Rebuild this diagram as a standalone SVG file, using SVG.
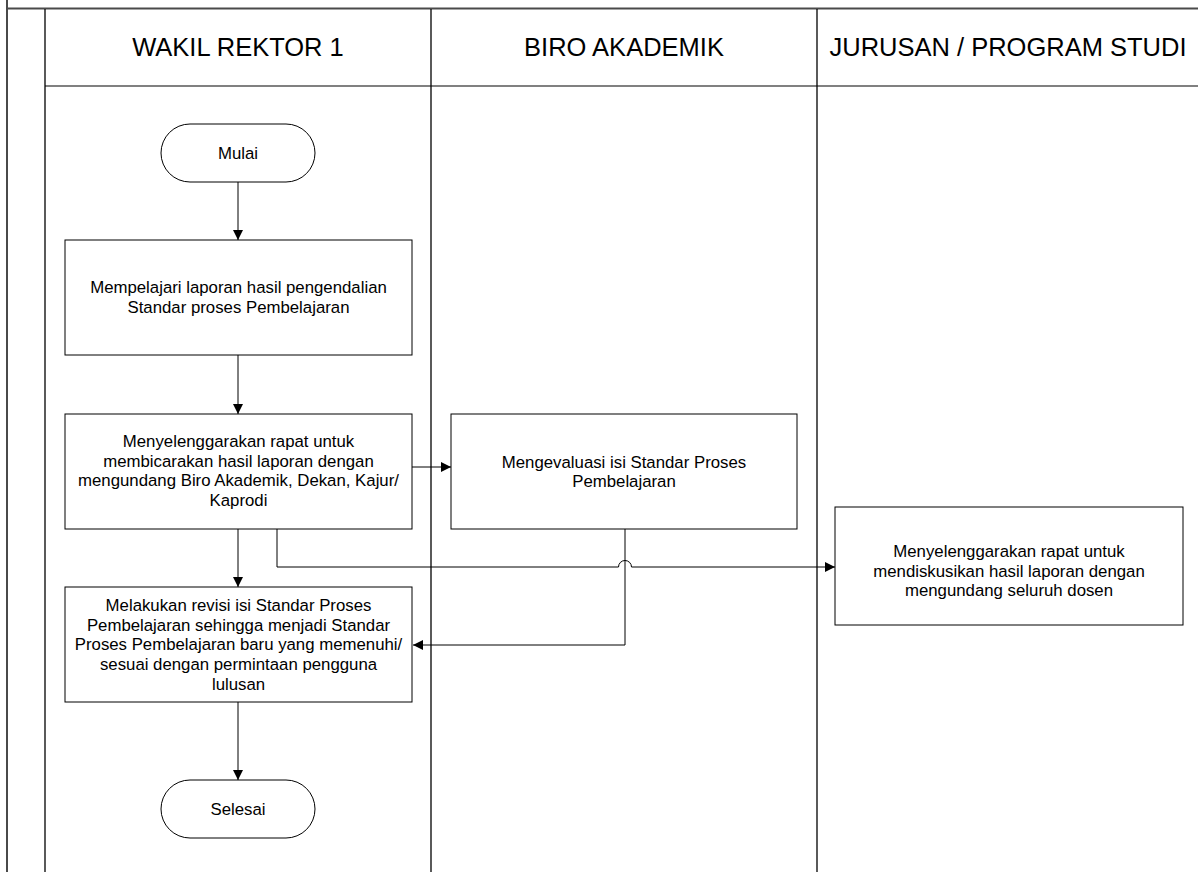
<svg xmlns="http://www.w3.org/2000/svg" width="1198" height="872" viewBox="0 0 1198 872">
<style>
.lane{stroke:#000;stroke-width:1.3;fill:none}
.frame{stroke:#4a4a4a;stroke-width:2;fill:none}
.hdr{stroke:#808080;stroke-width:2;fill:none}
.h{font-family:"Liberation Sans",Arial,sans-serif;font-size:25.5px;fill:#000;text-anchor:middle}
.t{font-family:"Liberation Sans",Arial,sans-serif;font-size:16.8px;fill:#000;text-anchor:middle}
.box{fill:#fff;stroke:#000;stroke-width:1}
.c{fill:none;stroke:#000;stroke-width:1}
</style>
<defs>
<marker id="ah" viewBox="0 0 10 10" refX="10" refY="5" markerWidth="10" markerHeight="10" markerUnits="userSpaceOnUse" orient="auto">
<path d="M0,0 L10,5 L0,10 z" fill="#000"/>
</marker>
</defs>
<rect width="1198" height="872" fill="#fff"/>
<g id="swimlanes">
<line class="frame" x1="7" y1="0" x2="7" y2="872"/>
<line class="frame" x1="7" y1="8.5" x2="1198" y2="8.5"/>
<line class="hdr" x1="45" y1="86" x2="1198" y2="86"/>
<line class="lane" x1="45" y1="9" x2="45" y2="872" stroke-width="1"/>
<line class="lane" x1="431" y1="9" x2="431" y2="872"/>
<line class="lane" x1="817" y1="9" x2="817" y2="872"/>
<text class="h" x="238" y="55.5">WAKIL REKTOR 1</text>
<text class="h" x="624" y="55.5">BIRO AKADEMIK</text>
<text class="h" x="1008" y="55.5">JURUSAN / PROGRAM STUDI</text>
</g>
<g id="connectors">
<line class="c" x1="238" y1="182" x2="238" y2="240" marker-end="url(#ah)"/>
<line class="c" x1="238" y1="355" x2="238" y2="414" marker-end="url(#ah)"/>
<line class="c" x1="412" y1="467" x2="451" y2="467" marker-end="url(#ah)"/>
<line class="c" x1="238" y1="529" x2="238" y2="587" marker-end="url(#ah)"/>
<path class="c" d="M277,529 V567 H618.5 A6.5,6.5 0 0 1 631.5,567 H835" marker-end="url(#ah)"/>
<path class="c" d="M625,529 V645 H413" marker-end="url(#ah)"/>
<line class="c" x1="238" y1="702" x2="238" y2="780" marker-end="url(#ah)"/>
</g>
<g id="mulai">
<rect class="box" x="161" y="124" width="154" height="58" rx="29" ry="29"/>
<text class="t" x="238" y="159">Mulai</text>
</g>
<g id="mempelajari">
<rect class="box" x="65" y="240" width="347" height="115"/>
<text class="t" x="238.5" y="293">Mempelajari laporan hasil pengendalian</text>
<text class="t" x="238.5" y="313">Standar proses Pembelajaran</text>
</g>
<g id="rapat-wr">
<rect class="box" x="65" y="414" width="347" height="115"/>
<text class="t" x="238.5" y="447">Menyelenggarakan rapat untuk</text>
<text class="t" x="238.5" y="466.7">membicarakan hasil laporan dengan</text>
<text class="t" x="238.5" y="486.4">mengundang Biro Akademik, Dekan, Kajur/</text>
<text class="t" x="238.5" y="506">Kaprodi</text>
</g>
<g id="evaluasi">
<rect class="box" x="451" y="414" width="346" height="115"/>
<text class="t" x="624" y="467.5">Mengevaluasi isi Standar Proses</text>
<text class="t" x="624" y="487.2">Pembelajaran</text>
</g>
<g id="rapat-prodi">
<rect class="box" x="835" y="507" width="348" height="118"/>
<text class="t" x="1009" y="557">Menyelenggarakan rapat untuk</text>
<text class="t" x="1009" y="576.7">mendiskusikan hasil laporan dengan</text>
<text class="t" x="1009" y="596.4">mengundang seluruh dosen</text>
</g>
<g id="revisi">
<rect class="box" x="65" y="587" width="347" height="115"/>
<text class="t" x="238.5" y="611">Melakukan revisi isi Standar Proses</text>
<text class="t" x="238.5" y="630.7">Pembelajaran sehingga menjadi Standar</text>
<text class="t" x="238.5" y="650.4">Proses Pembelajaran baru yang memenuhi/</text>
<text class="t" x="238.5" y="670.1">sesuai dengan permintaan pengguna</text>
<text class="t" x="238.5" y="689.8">lulusan</text>
</g>
<g id="selesai">
<rect class="box" x="161" y="780" width="154" height="58" rx="29" ry="29"/>
<text class="t" x="238" y="815">Selesai</text>
</g>
</svg>
